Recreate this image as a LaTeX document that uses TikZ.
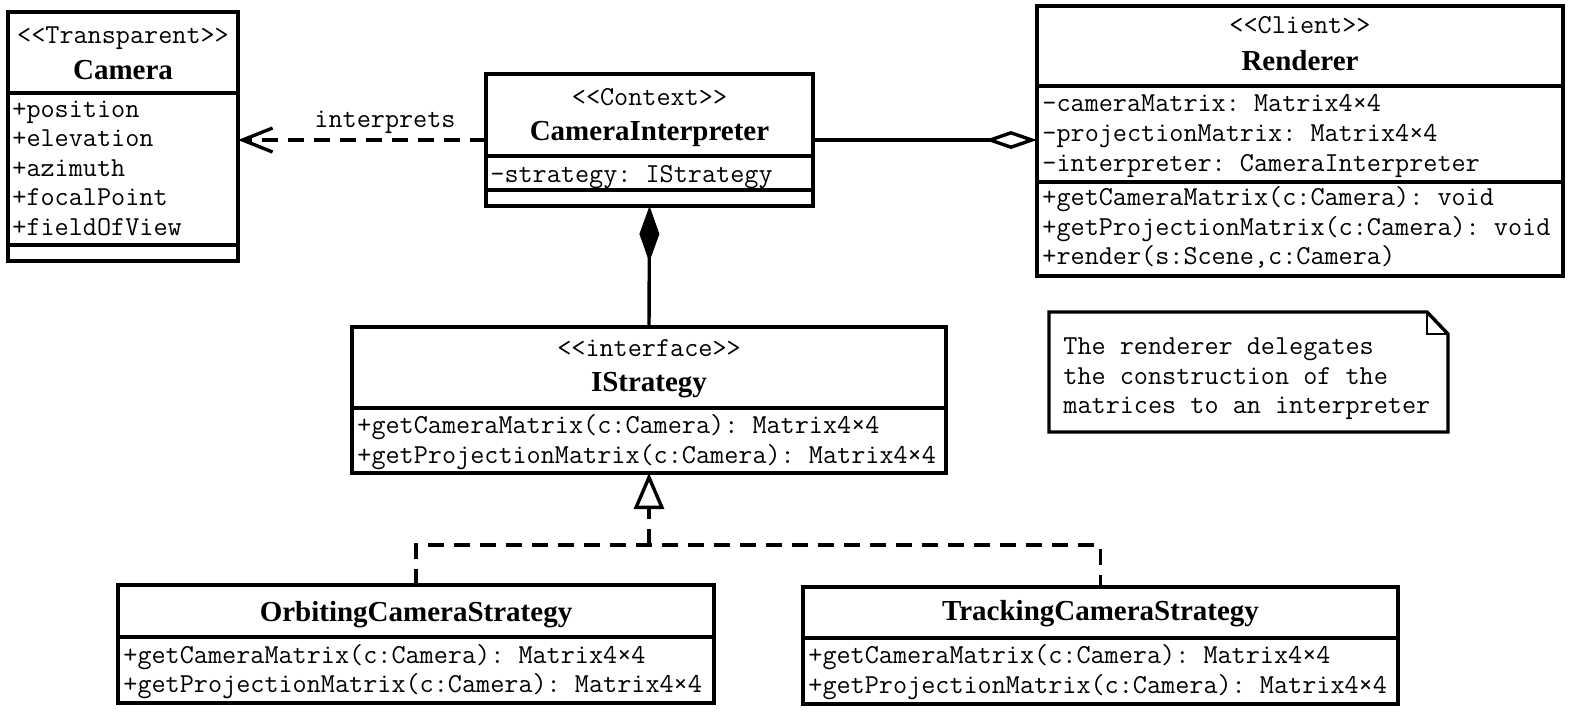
\documentclass[tikz,border=0pt]{standalone}
\usepackage{fontspec}
\setmainfont{Liberation Serif}
\usetikzlibrary{arrows.meta}
\begin{document}
\frenchspacing
\begin{tikzpicture}[x=0.5pt,y=-0.5pt,
  box/.style={draw, line width=1.7pt, inner sep=0pt, outer sep=0pt, anchor=north west},
  sepline/.style={line width=1.7pt},
  mono/.style={font=\fontsize{13.7}{15}\selectfont\ttfamily\frenchspacing, inner sep=0pt, anchor=base west},
  stereo/.style={font=\fontsize{13.7}{15}\selectfont\ttfamily\frenchspacing, inner sep=0pt, anchor=base},
  cname/.style={font=\fontsize{14.5}{16}\selectfont\bfseries, inner sep=0pt, anchor=base},
  conn/.style={line width=1.7pt},
  dashconn/.style={line width=1.7pt, dash pattern=on 8pt off 5pt},
]
\useasboundingbox (0,0) rectangle (1572,714);

% Camera
\node[box, minimum width=115pt, minimum height=124.5pt] (camera) at (8,12) {};
\node[stereo] (camst) at (123,43) {<{}<Transparent>{}>};
\node[cname] (camname) at (123,79) {Camera};
\draw[sepline] (camera.west |- 0,93) -- (camera.east |- 0,93);
\node[mono] (cam1) at (12,117) {+position};
\node[mono] (cam2) at (12,146) {+elevation};
\node[mono] (cam3) at (12,176) {+azimuth};
\node[mono] (cam4) at (12,205) {+focalPoint};
\node[mono] (cam5) at (12,235) {+fieldOfView};
\draw[sepline] (camera.west |- 0,245) -- (camera.east |- 0,245);

% CameraInterpreter
\node[box, minimum width=163.5pt, minimum height=66pt] (interp) at (486,74) {};
\node[stereo] (intst) at (649.5,105) {<{}<Context>{}>};
\node[cname] (intname) at (649.5,140) {CameraInterpreter};
\draw[sepline] (interp.west |- 0,156) -- (interp.east |- 0,156);
\node[mono] (int1) at (490,182) {-strategy: IStrategy};
\draw[sepline] (interp.west |- 0,190) -- (interp.east |- 0,190);

% Renderer
\node[box, minimum width=263pt, minimum height=135pt] (renderer) at (1037,6) {};
\node[stereo] (renst) at (1300,33) {<{}<Client>{}>};
\node[cname] (renname) at (1300,70) {Renderer};
\draw[sepline] (renderer.west |- 0,86) -- (renderer.east |- 0,86);
\node[mono] (ren1) at (1042,111) {-cameraMatrix: Matrix4×4};
\node[mono] (ren2) at (1042,141) {-projectionMatrix: Matrix4×4};
\node[mono] (ren3) at (1042,171) {-interpreter: CameraInterpreter};
\draw[sepline] (renderer.west |- 0,182) -- (renderer.east |- 0,182);
\node[mono] (ren4) at (1042,205) {+getCameraMatrix(c:Camera): void};
\node[mono] (ren5) at (1042,235) {+getProjectionMatrix(c:Camera): void};
\node[mono] (ren6) at (1042,264) {+render(s:Scene,c:Camera)};

% IStrategy
\node[box, minimum width=297pt, minimum height=73pt] (istrat) at (352,327) {};
\node[stereo] (isst) at (649,356) {<{}<interface>{}>};
\node[cname] (isname) at (649,391) {IStrategy};
\draw[sepline] (istrat.west |- 0,408) -- (istrat.east |- 0,408);
\node[mono] (is1) at (357,433) {+getCameraMatrix(c:Camera): Matrix4×4};
\node[mono] (is2) at (357,463) {+getProjectionMatrix(c:Camera): Matrix4×4};

% OrbitingCameraStrategy
\node[box, minimum width=298pt, minimum height=59pt] (orbit) at (118,585) {};
\node[cname] (orname) at (416,621) {OrbitingCameraStrategy};
\draw[sepline] (orbit.west |- 0,637) -- (orbit.east |- 0,637);
\node[mono] (or1) at (123,663) {+getCameraMatrix(c:Camera): Matrix4×4};
\node[mono] (or2) at (123,692) {+getProjectionMatrix(c:Camera): Matrix4×4};

% TrackingCameraStrategy
\node[box, minimum width=297.5pt, minimum height=58.5pt] (track) at (803,587) {};
\node[cname] (trname) at (1100.5,620) {TrackingCameraStrategy};
\draw[sepline] (track.west |- 0,638) -- (track.east |- 0,638);
\node[mono] (tr1) at (808,663) {+getCameraMatrix(c:Camera): Matrix4×4};
\node[mono] (tr2) at (808,693) {+getProjectionMatrix(c:Camera): Matrix4×4};

% Note
\node[inner sep=0pt, outer sep=0pt, minimum width=199.5pt, minimum height=60pt, anchor=north west] (note) at (1049,312) {};
\draw[line width=1.7pt] (note.north west) -- (1427,312) -- (note.east |- 0,334) -- (note.south east) -- (note.south west) -- cycle;
\draw[line width=0.9pt] (1427,312) -- (1427,334) -- (note.east |- 0,334);
\node[mono] (note1) at (1063,354) {The renderer delegates};
\node[mono] (note2) at (1063,384) {the construction of the};
\node[mono] (note3) at (1063,413) {matrices to an interpreter};

% Connectors
\draw[dashconn, -{Straight Barb[length=15pt,width=12pt,line width=1.7pt]}] (interp.west) -- (interp.west -| camera.east);
\node[stereo] (interprets) at (385,127) {interprets};
\draw[conn, -{Diamond[open, length=26pt, width=9pt]}] (interp.east) -- (interp.east -| renderer.west);
\draw[conn, -{Diamond[length=28pt, width=10pt]}] (istrat.north) -- (interp.south);

\coordinate (junc) at (649,545);
\draw[dashconn, -{Triangle[open, length=18pt, width=15pt]}] (junc) -- (istrat.south);
\draw[dashconn] (orbit.north) -- (orbit.north |- junc) -- (junc -| track.north) -- (track.north);
\end{tikzpicture}
\end{document}
